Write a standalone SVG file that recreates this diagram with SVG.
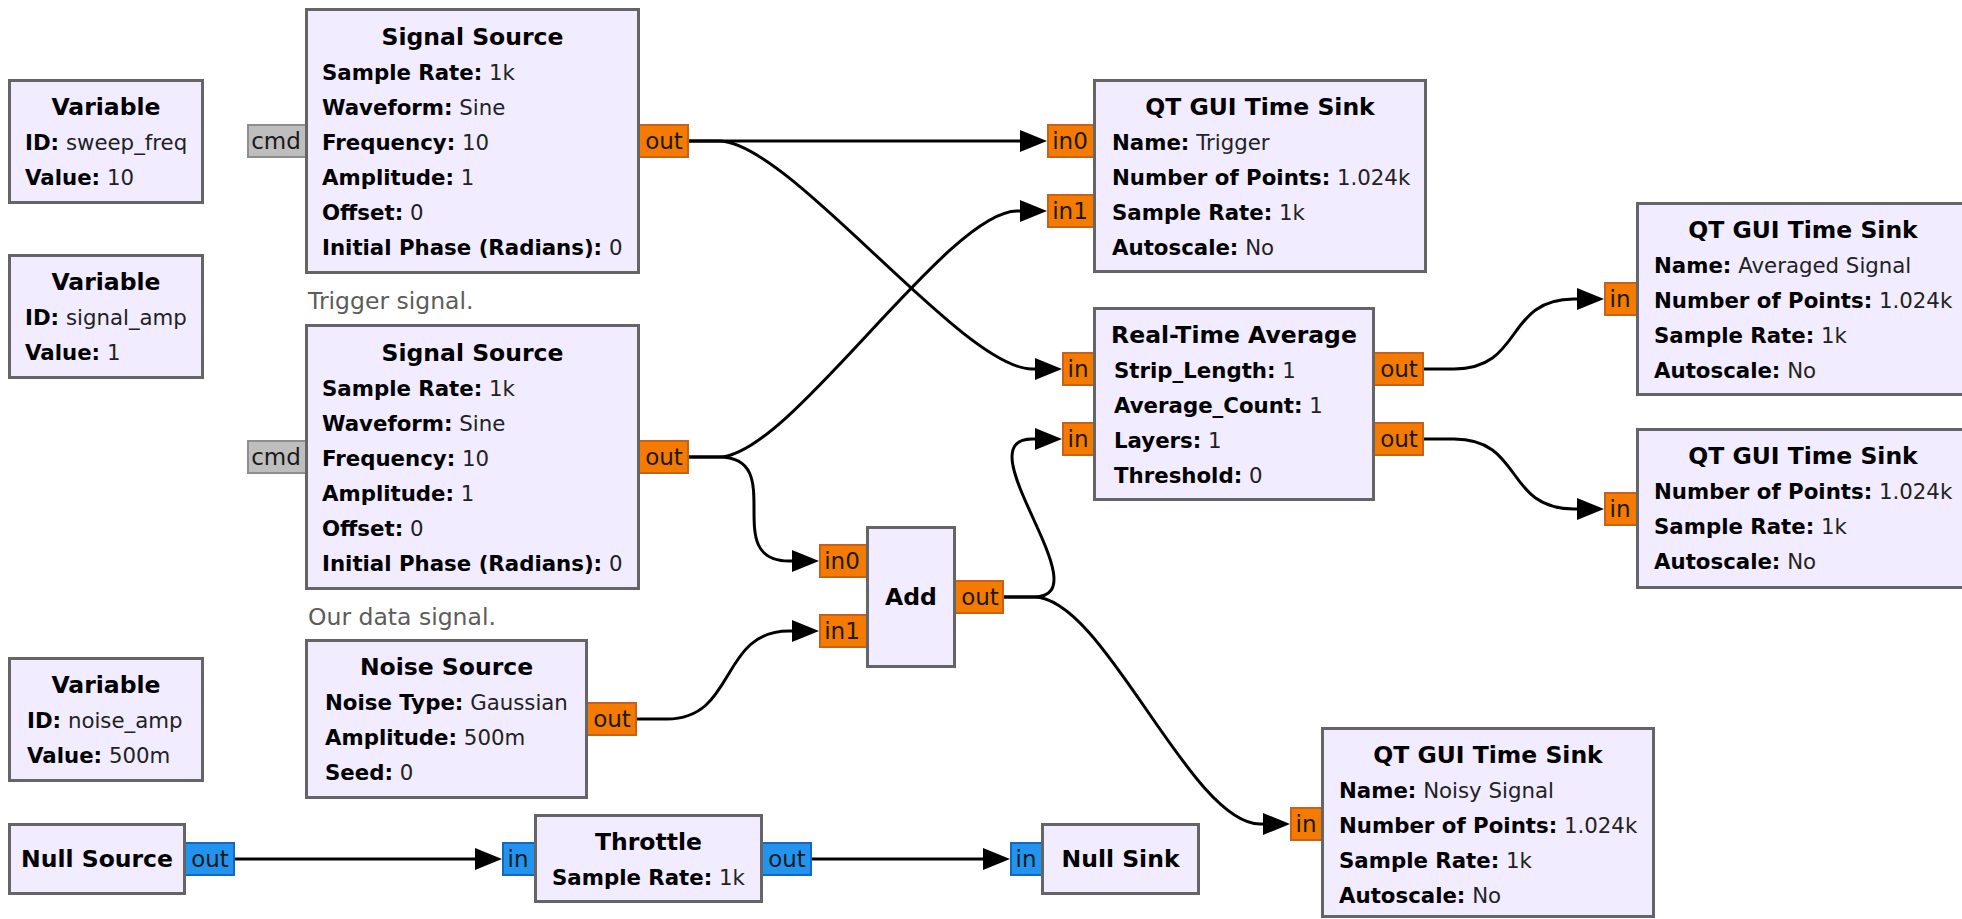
<svg xmlns="http://www.w3.org/2000/svg" width="1962" height="919" viewBox="0 0 1962 919">
  <style>
    text { font-family: "DejaVu Sans", "Liberation Sans", sans-serif; fill: #111; }
    .blk { fill: #F1ECFF; stroke: #656565; stroke-width: 3; }
    .t { font-size: 23.5px; font-weight: bold; text-anchor: middle; fill: #000; }
    .p { font-size: 21.3px; fill: #222; }
    .k { font-weight: bold; fill: #000; }
    .pf { fill: #F47B00; stroke: #C8611C; stroke-width: 2; }
    .pc { fill: #2293EE; stroke: #1667BE; stroke-width: 2; }
    .pm { fill: #BEBEBE; stroke: #8E8E8E; stroke-width: 2; }
    .pl { font-size: 23px; text-anchor: middle; fill: #1a1a1a; }
    .cmt { font-size: 23.5px; fill: #5c5c5c; }
    .wire { fill: none; stroke: #000; stroke-width: 3; marker-end: url(#arrow); }
  </style>
  <defs>
    <marker id="arrow" markerUnits="userSpaceOnUse" viewBox="0 0 27 22" refX="0" refY="11" markerWidth="27" markerHeight="22" orient="auto">
      <path d="M0,0 L27,11 L0,22 z" fill="#000"/>
    </marker>
  </defs>

  <!-- connections -->
  <g id="connections">
    <path class="wire" d="M689,141 H1020"/>
    <path class="wire" d="M689,141 H719 C789,141 962,369 1032,369 H1035"/>
    <path class="wire" d="M689,457 H719 C789,457 947,211 1017,211 H1020"/>
    <path class="wire" d="M689,457 H719 C789,457 719,561 789,561 H792"/>
    <path class="wire" d="M637,719 H667 C737,719 719,631 789,631 H792"/>
    <path class="wire" d="M1004,597 H1034 C1104,597 962,439 1032,439 H1035"/>
    <path class="wire" d="M1004,597 H1034 C1104,597 1190,824 1260,824 H1263"/>
    <path class="wire" d="M1424,369 H1454 C1524,369 1504,299 1574,299 H1577"/>
    <path class="wire" d="M1424,439 H1454 C1524,439 1504,509 1574,509 H1577"/>
    <path class="wire" d="M235,859 H475"/>
    <path class="wire" d="M812,859 H983"/>
  </g>

  <!-- variables -->
  <g id="var_sweep_freq">
    <rect class="blk" x="9.5" y="80.5" width="193" height="122"/>
    <text class="t" x="106" y="115">Variable</text>
    <text class="p" x="25" y="150"><tspan class="k">ID:</tspan> sweep_freq</text>
    <text class="p" x="25" y="185"><tspan class="k">Value:</tspan> 10</text>
  </g>
  <g id="var_signal_amp">
    <rect class="blk" x="9.5" y="255.5" width="193" height="122"/>
    <text class="t" x="106" y="290">Variable</text>
    <text class="p" x="25" y="325"><tspan class="k">ID:</tspan> signal_amp</text>
    <text class="p" x="25" y="360"><tspan class="k">Value:</tspan> 1</text>
  </g>
  <g id="var_noise_amp">
    <rect class="blk" x="9.5" y="658.5" width="193" height="122"/>
    <text class="t" x="106" y="693">Variable</text>
    <text class="p" x="27" y="728"><tspan class="k">ID:</tspan> noise_amp</text>
    <text class="p" x="27" y="763"><tspan class="k">Value:</tspan> 500m</text>
  </g>

  <!-- trigger signal source -->
  <g id="signal_source_0">
    <rect class="pm" x="248" y="125" width="58" height="32"/>
    <text class="pl" x="276" y="149">cmd</text>
    <rect class="pf" x="639" y="125" width="49" height="32"/>
    <text class="pl" x="664" y="149">out</text>
    <rect class="blk" x="306.5" y="9.5" width="332" height="263"/>
    <text class="t" x="472.5" y="45">Signal Source</text>
    <text class="p" x="322" y="80"><tspan class="k">Sample Rate:</tspan> 1k</text>
    <text class="p" x="322" y="115"><tspan class="k">Waveform:</tspan> Sine</text>
    <text class="p" x="322" y="150"><tspan class="k">Frequency:</tspan> 10</text>
    <text class="p" x="322" y="185"><tspan class="k">Amplitude:</tspan> 1</text>
    <text class="p" x="322" y="220"><tspan class="k">Offset:</tspan> 0</text>
    <text class="p" x="322" y="255"><tspan class="k">Initial Phase (Radians):</tspan> 0</text>
  </g>
  <text id="comment_trigger" class="cmt" x="308" y="309">Trigger signal.</text>

  <!-- data signal source -->
  <g id="signal_source_1">
    <rect class="pm" x="248" y="441" width="58" height="32"/>
    <text class="pl" x="276" y="465">cmd</text>
    <rect class="pf" x="639" y="441" width="49" height="32"/>
    <text class="pl" x="664" y="465">out</text>
    <rect class="blk" x="306.5" y="325.5" width="332" height="263"/>
    <text class="t" x="472.5" y="361">Signal Source</text>
    <text class="p" x="322" y="396"><tspan class="k">Sample Rate:</tspan> 1k</text>
    <text class="p" x="322" y="431"><tspan class="k">Waveform:</tspan> Sine</text>
    <text class="p" x="322" y="466"><tspan class="k">Frequency:</tspan> 10</text>
    <text class="p" x="322" y="501"><tspan class="k">Amplitude:</tspan> 1</text>
    <text class="p" x="322" y="536"><tspan class="k">Offset:</tspan> 0</text>
    <text class="p" x="322" y="571"><tspan class="k">Initial Phase (Radians):</tspan> 0</text>
  </g>
  <text id="comment_data" class="cmt" x="308" y="625">Our data signal.</text>

  <!-- noise source -->
  <g id="noise_source">
    <rect class="pf" x="587" y="703" width="49" height="32"/>
    <text class="pl" x="612" y="727">out</text>
    <rect class="blk" x="306.5" y="640.5" width="280" height="157"/>
    <text class="t" x="446.5" y="675">Noise Source</text>
    <text class="p" x="325" y="710"><tspan class="k">Noise Type:</tspan> Gaussian</text>
    <text class="p" x="325" y="745"><tspan class="k">Amplitude:</tspan> 500m</text>
    <text class="p" x="325" y="780"><tspan class="k">Seed:</tspan> 0</text>
  </g>

  <!-- null source / throttle / null sink chain -->
  <g id="null_source">
    <rect class="pc" x="185" y="843" width="49" height="32"/>
    <text class="pl" x="210" y="867">out</text>
    <rect class="blk" x="9.5" y="824.5" width="175" height="69"/>
    <text class="t" x="97" y="867">Null Source</text>
  </g>
  <g id="throttle">
    <rect class="pc" x="503" y="843" width="32" height="32"/>
    <text class="pl" x="518" y="867">in</text>
    <rect class="pc" x="762" y="843" width="49" height="32"/>
    <text class="pl" x="787" y="867">out</text>
    <rect class="blk" x="535.5" y="815.5" width="226" height="86"/>
    <text class="t" x="648.5" y="850">Throttle</text>
    <text class="p" x="552" y="885"><tspan class="k">Sample Rate:</tspan> 1k</text>
  </g>
  <g id="null_sink">
    <rect class="pc" x="1011" y="843" width="31" height="32"/>
    <text class="pl" x="1026" y="867">in</text>
    <rect class="blk" x="1042.5" y="824.5" width="156" height="69"/>
    <text class="t" x="1120.5" y="867">Null Sink</text>
  </g>

  <!-- adder -->
  <g id="add">
    <rect class="pf" x="820" y="545" width="47" height="32"/>
    <text class="pl" x="842" y="569">in0</text>
    <rect class="pf" x="820" y="615" width="47" height="32"/>
    <text class="pl" x="842" y="639">in1</text>
    <rect class="pf" x="955" y="581" width="48" height="32"/>
    <text class="pl" x="980" y="605">out</text>
    <rect class="blk" x="867.5" y="527.5" width="87" height="139"/>
    <text class="t" x="911" y="605">Add</text>
  </g>

  <!-- time sink: trigger -->
  <g id="time_sink_trigger">
    <rect class="pf" x="1048" y="125" width="46" height="32"/>
    <text class="pl" x="1070" y="149">in0</text>
    <rect class="pf" x="1048" y="195" width="46" height="32"/>
    <text class="pl" x="1070" y="219">in1</text>
    <rect class="blk" x="1094.5" y="80.5" width="331" height="191"/>
    <text class="t" x="1260" y="115">QT GUI Time Sink</text>
    <text class="p" x="1112" y="150"><tspan class="k">Name:</tspan> Trigger</text>
    <text class="p" x="1112" y="185"><tspan class="k">Number of Points:</tspan> 1.024k</text>
    <text class="p" x="1112" y="220"><tspan class="k">Sample Rate:</tspan> 1k</text>
    <text class="p" x="1112" y="255"><tspan class="k">Autoscale:</tspan> No</text>
  </g>

  <!-- real-time average -->
  <g id="rt_average">
    <rect class="pf" x="1063" y="353" width="31" height="32"/>
    <text class="pl" x="1078" y="377">in</text>
    <rect class="pf" x="1063" y="423" width="31" height="32"/>
    <text class="pl" x="1078" y="447">in</text>
    <rect class="pf" x="1374" y="353" width="49" height="32"/>
    <text class="pl" x="1399" y="377">out</text>
    <rect class="pf" x="1374" y="423" width="49" height="32"/>
    <text class="pl" x="1399" y="447">out</text>
    <rect class="blk" x="1094.5" y="308.5" width="279" height="191"/>
    <text class="t" x="1234" y="343">Real-Time Average</text>
    <text class="p" x="1114" y="378"><tspan class="k">Strip_Length:</tspan> 1</text>
    <text class="p" x="1114" y="413"><tspan class="k">Average_Count:</tspan> 1</text>
    <text class="p" x="1114" y="448"><tspan class="k">Layers:</tspan> 1</text>
    <text class="p" x="1114" y="483"><tspan class="k">Threshold:</tspan> 0</text>
  </g>

  <!-- time sink: averaged -->
  <g id="time_sink_averaged">
    <rect class="pf" x="1605" y="283" width="32" height="32"/>
    <text class="pl" x="1620" y="307">in</text>
    <rect class="blk" x="1637.5" y="203.5" width="331" height="191"/>
    <text class="t" x="1803" y="238">QT GUI Time Sink</text>
    <text class="p" x="1654" y="273"><tspan class="k">Name:</tspan> Averaged Signal</text>
    <text class="p" x="1654" y="308"><tspan class="k">Number of Points:</tspan> 1.024k</text>
    <text class="p" x="1654" y="343"><tspan class="k">Sample Rate:</tspan> 1k</text>
    <text class="p" x="1654" y="378"><tspan class="k">Autoscale:</tspan> No</text>
  </g>

  <!-- time sink: unnamed -->
  <g id="time_sink_second">
    <rect class="pf" x="1605" y="493" width="32" height="32"/>
    <text class="pl" x="1620" y="517">in</text>
    <rect class="blk" x="1637.5" y="429.5" width="331" height="158"/>
    <text class="t" x="1803" y="464">QT GUI Time Sink</text>
    <text class="p" x="1654" y="499"><tspan class="k">Number of Points:</tspan> 1.024k</text>
    <text class="p" x="1654" y="534"><tspan class="k">Sample Rate:</tspan> 1k</text>
    <text class="p" x="1654" y="569"><tspan class="k">Autoscale:</tspan> No</text>
  </g>

  <!-- time sink: noisy -->
  <g id="time_sink_noisy">
    <rect class="pf" x="1291" y="808" width="31" height="32"/>
    <text class="pl" x="1306" y="832">in</text>
    <rect class="blk" x="1322.5" y="728.5" width="331" height="188"/>
    <text class="t" x="1488" y="763">QT GUI Time Sink</text>
    <text class="p" x="1339" y="798"><tspan class="k">Name:</tspan> Noisy Signal</text>
    <text class="p" x="1339" y="833"><tspan class="k">Number of Points:</tspan> 1.024k</text>
    <text class="p" x="1339" y="868"><tspan class="k">Sample Rate:</tspan> 1k</text>
    <text class="p" x="1339" y="903"><tspan class="k">Autoscale:</tspan> No</text>
  </g>
</svg>
